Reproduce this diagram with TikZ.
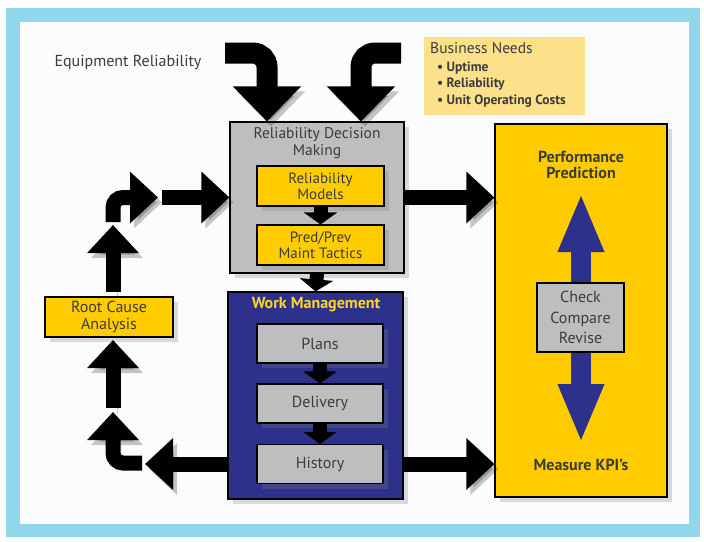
\documentclass[tikz,border=0pt]{standalone}
\usepackage{fontspec}
\setmainfont{PT Sans}
\usetikzlibrary{arrows.meta,shadows}
\definecolor{frameblue}{RGB}{146,214,236}
\definecolor{gold}{RGB}{255,204,0}
\definecolor{boxgray}{RGB}{188,190,192}
\definecolor{navyb}{RGB}{46,49,140}
\definecolor{txt}{RGB}{60,60,62}
\definecolor{paleyel}{RGB}{252,224,138}
\definecolor{wmtitle}{RGB}{255,212,40}
\definecolor{innerbg}{RGB}{250,252,254}
\begin{document}
\begin{tikzpicture}[x=1pt,y=-1pt,
  sh/.style={preaction={draw=black,opacity=0.22,transform canvas={shift={(4pt,-5pt)}}}},
  boxshadow/.style={drop shadow={shadow xshift=5pt,shadow yshift=-5pt,opacity=0.28}},
  box/.style={draw=black,line width=1.1pt,inner sep=0pt,boxshadow},
  lbl/.style={text=txt,align=center,inner sep=0pt,font=\fontsize{15.5}{17}\selectfont},
  inlbl/.style={text=txt,align=center,font=\fontsize{15}{16}\selectfont},
  blbl/.style={text=txt,align=center,inner sep=0pt,font=\bfseries\fontsize{16}{16}\selectfont},
  bullet/.style={text=txt,anchor=west,inner sep=0pt,font=\bfseries\fontsize{13.5}{14}\selectfont},
  bigarrow/.style={line width=15pt,draw=black,-{Triangle[width=50pt,length=28pt]},sh},
  toparrow/.style={line width=21pt,draw=black,rounded corners=14pt,-{Triangle[width=66pt,length=35pt]},sh},
  smallarrow/.style={line width=14pt,draw=black,-{Triangle[width=33pt,length=12pt]}},
]
% frame
\fill[white] (0,0) rectangle (704,541);
\fill[frameblue] (6,8) rectangle (700,537);
\fill[innerbg] (20,22) rectangle (689,524);
\useasboundingbox (0,0) rectangle (704,541);

% texts on top
\node[text=txt,inner sep=0pt,font=\fontsize{16}{18}\selectfont] (eqr) at (128,62) {Equipment Reliability};
\node[fill=paleyel,minimum width=161pt,minimum height=78pt,inner sep=0pt] (bn) at (504.5,76) {};
\node[text=txt,anchor=west,inner sep=0pt,font=\fontsize{15.5}{17}\selectfont] (bnt) at (430,48) {Business Needs};
\node[bullet] (bn1) at (437,68) {• Uptime};
\node[bullet] (bn2) at (437,84.5) {• Reliability};
\node[bullet] (bn3) at (437,101) {• Unit Operating Costs};

% main boxes
\node[box,fill=boxgray,minimum width=174pt,minimum height=151pt] (rdm) at (317,197.5) {};
\node[lbl] (rdmt) at (317,143.5) {Reliability Decision\\Making};
\node[box,fill=gold,minimum width=127pt,minimum height=40pt,inlbl] (rm) at (320.5,186) {Reliability\\Models};
\node[box,fill=gold,minimum width=127pt,minimum height=40pt,inlbl] (ppm) at (320.5,245) {Pred/Prev\\Maint Tactics};

\node[box,fill=navyb,minimum width=175pt,minimum height=207pt] (wm) at (315.5,395.5) {};
\node[inner sep=0pt,text=wmtitle,font=\bfseries\fontsize{16}{18}\selectfont] (wmt) at (316,305) {Work Management};
\node[box,fill=boxgray,minimum width=126pt,minimum height=39pt,inlbl,font=\fontsize{16}{18}\selectfont] (plans) at (320,343.5) {Plans};
\node[box,fill=boxgray,minimum width=126pt,minimum height=39pt,inlbl,font=\fontsize{16}{18}\selectfont] (deliv) at (320,403.5) {Delivery};
\node[box,fill=boxgray,minimum width=126pt,minimum height=39pt,inlbl,font=\fontsize{16}{18}\selectfont] (hist) at (320,464) {History};

\node[box,fill=gold,minimum width=172pt,minimum height=373pt] (perf) at (581,310.5) {};
\node[blbl] (perft) at (581,165) {Performance\\Prediction};
\node[blbl] (mk) at (581,465) {Measure KPI’s};

\node[box,fill=gold,minimum width=128pt,minimum height=40pt,inlbl,font=\fontsize{16}{17}\selectfont] (rca) at (109,317) {Root Cause\\Analysis};

% double arrow in performance box
\coordinate (pa) at (581,193);
\coordinate (pb) at (581,443);
\draw[navyb,line width=20pt,{Triangle[width=42pt,length=59pt]}-{Triangle[width=42pt,length=59pt]}] (pa) -- (pb);
\node[draw=black,line width=1.1pt,inner sep=0pt,fill=boxgray,minimum width=87pt,minimum height=69pt,text=txt,align=center,font=\fontsize{16}{20.5}\selectfont] (ccr) at (580.5,317.5) {Check\\Compare\\Revise};

% small arrows inside boxes
\draw[smallarrow] (rm.south) -- (ppm.north);
\draw[smallarrow] (rdm.south) -- (wm.north);
\draw[smallarrow] (plans.south) -- (deliv.north);
\draw[smallarrow] (deliv.south) -- (hist.north);

% top curved arrows
\coordinate (s1) at (225,53);
\coordinate (t1) at (267,0 |- rdm.north);
\coordinate (s2) at (401,53);
\coordinate (t2) at (361,0 |- rdm.north);
\draw[toparrow] (s1) -| (t1);
\draw[toparrow] (s2) -| (t2);

% right arrows
\draw[bigarrow] (rdm.east) -- (perf.west |- rdm.east);
\draw[bigarrow] (wm.east |- hist.east) -- (perf.west |- hist.east);

% left loop
\coordinate (c1) at (145,464);
\draw[bigarrow] (wm.west |- hist.west) -- (c1);
\coordinate (c2) at (142,463);
\coordinate (c3) at (113,412);
\draw[bigarrow,rounded corners=10pt] (c2) -| (c3);
\coordinate (c4) at (113,408);
\coordinate (c5) at (113,340);
\draw[bigarrow] (c4) -- (c5);
\coordinate (c6) at (113,292);
\coordinate (c7) at (113,225);
\draw[bigarrow] (c6) -- (c7);
\coordinate (c8) at (113,222);
\coordinate (c9) at (158,197.5);
\draw[bigarrow,rounded corners=10pt] (c8) |- (c9);
\coordinate (c10) at (162,197.5);
\draw[bigarrow] (c10) -- (rdm.west);
\end{tikzpicture}
\end{document}
